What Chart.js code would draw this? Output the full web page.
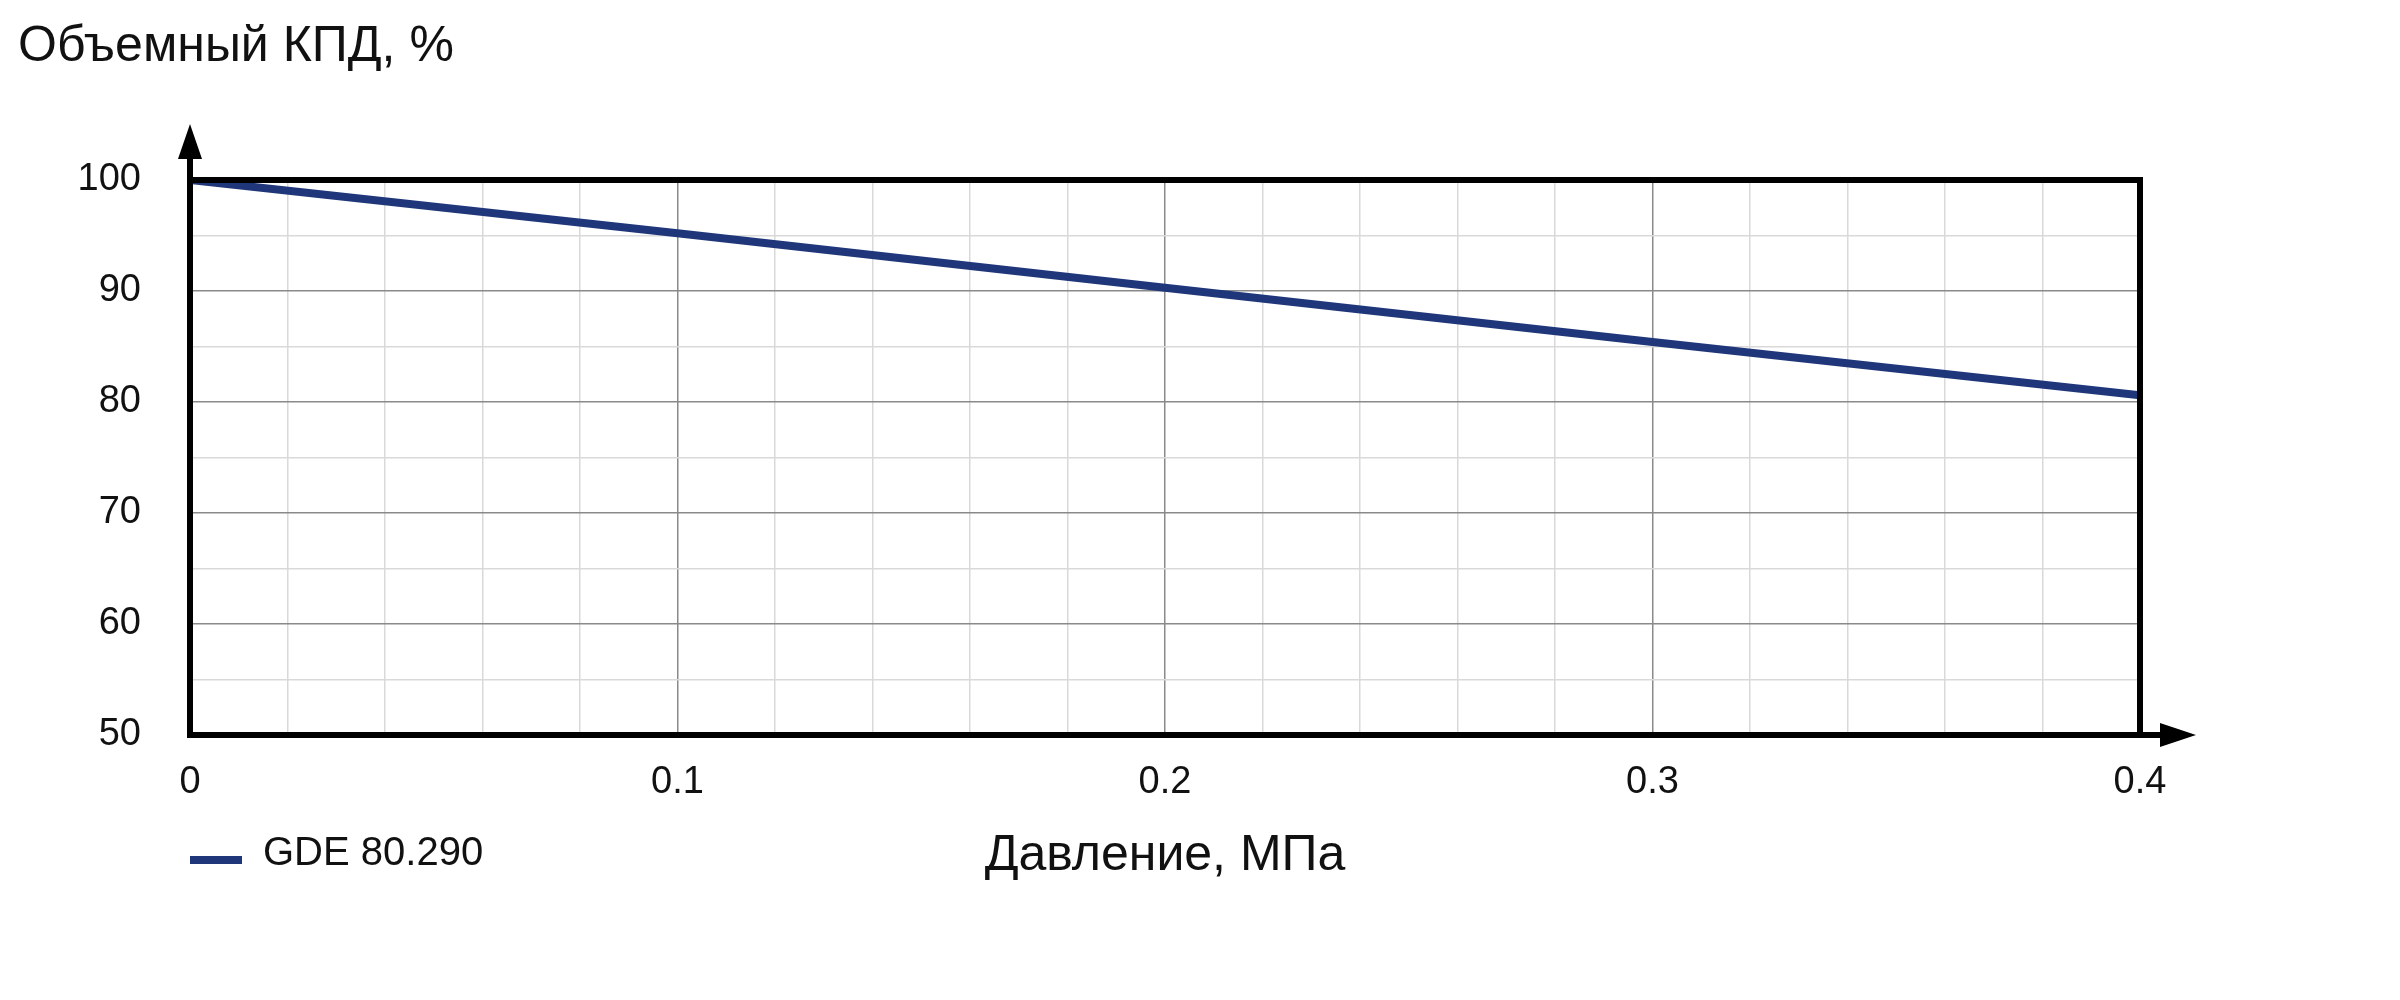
<!DOCTYPE html>
<html>
<head>
<meta charset="utf-8">
<script src="https://cdn.jsdelivr.net/npm/chart.js@4.4.1/dist/chart.umd.min.js"></script>
<style>
html,body{margin:0;padding:0;background:#fff;}
#wrap{width:2400px;height:1000px;position:relative;}
</style>
</head>
<body>
<div id="wrap"><canvas id="c"></canvas></div>
<script>
const pressure = [0, 0.1, 0.2, 0.3, 0.4];
const efficiency = [100, 95.2, 90.3, 85.4, 80.6];
const seriesName = 'GDE 80.290';
const yTitle = 'Объемный КПД, %';
const xTitle = 'Давление, МПа';
const xMajorTicks = [0, 0.1, 0.2, 0.3, 0.4];
const yMajorTicks = [50, 60, 70, 80, 90, 100];

const FONT = '"Liberation Sans", Arial, sans-serif';
const LINE_COLOR = '#1f377a';

function isMajorX(v){ return xMajorTicks.some(t => Math.abs(t - v) < 1e-6); }
function isMajorY(v){ return yMajorTicks.some(t => Math.abs(t - v) < 1e-6); }

const decor = {
  id: 'decor',
  afterDraw(chart){
    const ctx = chart.ctx;
    const a = chart.chartArea;
    ctx.save();
    ctx.strokeStyle = '#000';
    ctx.fillStyle = '#000';
    ctx.lineWidth = 6;
    ctx.lineCap = 'butt';
    // frame
    ctx.strokeRect(a.left, a.top, a.right - a.left, a.bottom - a.top);
    // y axis extension
    ctx.beginPath();
    ctx.moveTo(a.left, a.bottom + 3);
    ctx.lineTo(a.left, a.top - 40);
    ctx.stroke();
    // y arrowhead
    ctx.beginPath();
    ctx.moveTo(a.left, a.top - 56);
    ctx.lineTo(a.left - 12, a.top - 21);
    ctx.lineTo(a.left + 12, a.top - 21);
    ctx.closePath();
    ctx.fill();
    // x axis extension
    ctx.beginPath();
    ctx.moveTo(a.left - 3, a.bottom);
    ctx.lineTo(a.right + 30, a.bottom);
    ctx.stroke();
    // x arrowhead
    ctx.beginPath();
    ctx.moveTo(a.right + 56, a.bottom);
    ctx.lineTo(a.right + 20, a.bottom - 12);
    ctx.lineTo(a.right + 20, a.bottom + 12);
    ctx.closePath();
    ctx.fill();

    // titles
    ctx.fillStyle = '#111';
    ctx.textBaseline = 'alphabetic';
    ctx.textAlign = 'left';
    ctx.font = '50px ' + FONT;
    ctx.fillText(yTitle, 18, 61);
    ctx.textAlign = 'center';
    ctx.font = '50px ' + FONT;
    ctx.fillText(xTitle, (a.left + a.right) / 2, 870);

    // legend
    chart.data.datasets.forEach((ds, i) => {
      ctx.fillStyle = ds.borderColor;
      ctx.fillRect(190, 856, 52, 8);
      ctx.fillStyle = '#111';
      ctx.textAlign = 'left';
      ctx.font = '40px ' + FONT;
      ctx.fillText(ds.label, 263, 865);
    });
    ctx.restore();
  }
};

new Chart(document.getElementById('c'), {
  type: 'line',
  data: {
    datasets: [{
      label: seriesName,
      data: pressure.map((x, i) => ({x: x, y: efficiency[i]})),
      borderColor: LINE_COLOR,
      backgroundColor: LINE_COLOR,
      borderWidth: 8,
      borderCapStyle: 'round',
      pointRadius: 0,
      tension: 0,
      fill: false
    }]
  },
  options: {
    responsive: true,
    maintainAspectRatio: false,
    animation: false,
    layout: { padding: { top: 180, right: 260, left: 0, bottom: 0 } },
    plugins: { legend: { display: false }, title: { display: false }, tooltip: { enabled: false } },
    scales: {
      x: {
        type: 'linear',
        min: 0, max: 0.4,
        afterFit(s){ s.height = 265; },
        border: { display: false },
        grid: {
          drawTicks: false,
          lineWidth: 1.5,
          color: c => (c.tick && isMajorX(c.tick.value)) ? '#8a8a8a' : '#d9d9d9'
        },
        ticks: {
          stepSize: 0.02,
          autoSkip: false,
          maxRotation: 0,
          padding: 25,
          color: '#111',
          font: { family: FONT, size: 38 },
          callback: v => isMajorX(v) ? String(Math.round(v * 10) / 10) : ''
        }
      },
      y: {
        type: 'linear',
        min: 50, max: 100,
        afterFit(s){ s.width = 190; },
        border: { display: false },
        grid: {
          drawTicks: false,
          lineWidth: 1.5,
          color: c => (c.tick && isMajorY(c.tick.value)) ? '#8a8a8a' : '#d9d9d9'
        },
        ticks: {
          stepSize: 5,
          autoSkip: false,
          padding: 49,
          color: '#111',
          font: { family: FONT, size: 38 },
          callback: v => isMajorY(v) ? String(v) : ''
        }
      }
    }
  },
  plugins: [decor]
});
</script>
</body>
</html>
